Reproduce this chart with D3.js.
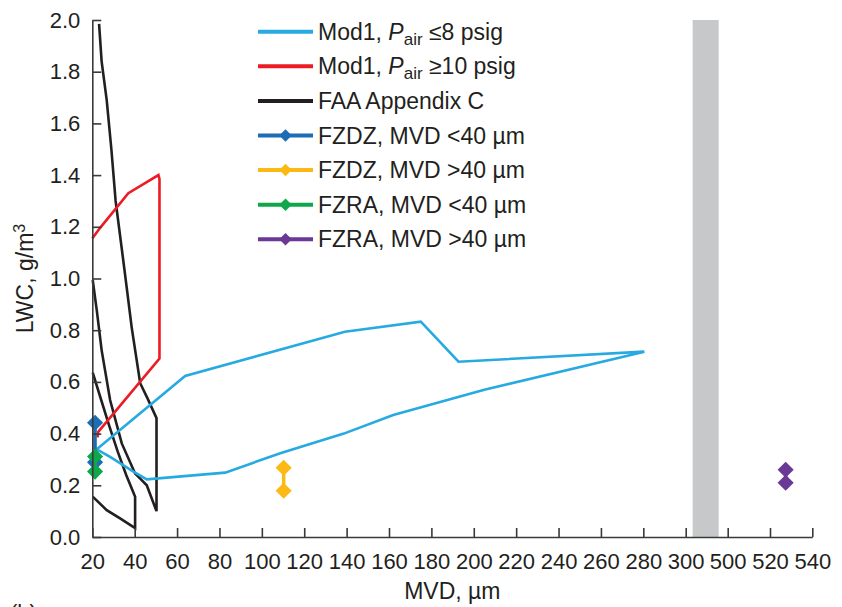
<!DOCTYPE html>
<html>
<head>
<meta charset="utf-8">
<script src="https://cdn.jsdelivr.net/npm/d3@7"></script>
<style>
    body { margin: 0; background: #fff; }
    text { font-family: "Liberation Sans", Arial, sans-serif; fill: #231f20; }
</style>
</head>
<body>
<script>

// tick values (x axis is broken between 300 and 500)
var xTicks = [20, 40, 60, 80, 100, 120, 140, 160, 180, 200, 220, 240, 260, 280, 300, 500, 520, 540];
var yTicks = [0, 0.2, 0.4, 0.6, 0.8, 1.0, 1.2, 1.4, 1.6, 1.8, 2.0];
var breakBand = [333, 457];

// Mod1, Pair <= 8 psig envelope  [MVD, LWC]
var mod1Low = [[22.1, 0.339], [63.8, 0.623], [139.2, 0.794], [175, 0.833], [192.8, 0.678],
    [280.5, 0.717], [205, 0.57], [162, 0.472], [138.7, 0.40], [108.7, 0.324], [82.7, 0.249],
    [45.7, 0.223], [39.4, 0.253], [28.4, 0.31], [22.1, 0.339]];

// Mod1, Pair >= 10 psig envelope
var mod1High = [[20, 1.155], [23.6, 1.195], [37, 1.33], [51.2, 1.40], [51.7, 1.385],
    [51.7, 0.69], [22.8, 0.407], [22.5, 0.385]];

// FAA Appendix C, intermittent maximum
var faaIntermittent = [[23.2, 1.985], [24.4, 1.84], [26.8, 1.69], [29, 1.5], [31, 1.3],
    [34.3, 1.09], [36, 0.98], [38.6, 0.81], [42.6, 0.595], [46, 0.537], [50.3, 0.46],
    [50.3, 0.10], [45.7, 0.20], [42.5, 0.227], [40.2, 0.246], [33.9, 0.362], [28.4, 0.53],
    [24.4, 0.723], [22.1, 0.878], [20.2, 0.994]];

// FAA Appendix C, continuous maximum
var faaContinuous = [[20.2, 0.636], [24.2, 0.53], [28, 0.43], [32, 0.33], [36, 0.24],
    [40.2, 0.156], [40.2, 0.034], [33.1, 0.072], [26.8, 0.104], [20.2, 0.156]];

// freezing drizzle / rain points
var fzdzSmall = [[21.3, 0.442], [21.3, 0.289]];
var fzdzLarge = [[110.3, 0.268], [110.3, 0.179]];
var fzraSmall = [[21.3, 0.311], [21.3, 0.253]];
var fzraLarge = [[527.4, 0.26], [527.4, 0.21]];

var legendLabels = ["Mod1, P_air ≤8 psig", "Mod1, P_air ≥10 psig", "FAA Appendix C",
    "FZDZ, MVD <40 µm", "FZDZ, MVD >40 µm", "FZRA, MVD <40 µm", "FZRA, MVD >40 µm"];
var legendColors = ["#27aae1", "#ed1c24", "#231f20", "#1c6db5", "#fdb913", "#0ea84b", "#6a3996"];
var legendMarker = [false, false, false, true, true, true, true];

function drawChart() {

    var width = 842,
        height = 607;

    var svg = d3.select("body")
        .append("svg")
        .attr("width", width)
        .attr("height", height);

    var left = 92.3, right = 812.3, top = 20, bottom = 537;

    // polylinear scale gives the axis break
    var x = d3.scaleLinear()
        .domain([20, 300, 500, 540])
        .range([left, 685.7, 727.7, right]);

    var y = d3.scaleLinear()
        .domain([0, 2])
        .range([bottom, top]);

    // gray break band
    svg.append("rect")
        .attr("x", x(breakBand[0]))
        .attr("y", top)
        .attr("width", x(breakBand[1]) - x(breakBand[0]))
        .attr("height", bottom - top)
        .attr("fill", "#c7c8ca");

    var line = d3.line()
        .x(function(d) { return x(d[0]); })
        .y(function(d) { return y(d[1]); });

    var curves = [
        {data: faaIntermittent, color: legendColors[2]},
        {data: faaContinuous, color: legendColors[2]},
        {data: mod1High, color: legendColors[1]},
        {data: mod1Low, color: legendColors[0]}
    ];

    svg.append("g")
        .attr("class", "curves")
        .selectAll("path")
        .data(curves)
        .enter().append("path")
        .attr("d", function(d) { return line(d.data); })
        .attr("fill", "none")
        .attr("stroke", function(d) { return d.color; })
        .attr("stroke-width", 2.6)
        .attr("stroke-linejoin", "miter");

    var diamond = d3.symbol().type(d3.symbolSquare).size(130);

    var points = [
        {data: fzdzSmall, color: legendColors[3]},
        {data: fzdzLarge, color: legendColors[4]},
        {data: fzraSmall, color: legendColors[5]},
        {data: fzraLarge, color: legendColors[6]}
    ];

    var pts = svg.append("g")
        .attr("class", "points")
        .selectAll("g")
        .data(points)
        .enter().append("g");

    pts.append("path")
        .attr("d", function(d) { return line(d.data); })
        .attr("fill", "none")
        .attr("stroke", function(d) { return d.color; })
        .attr("stroke-width", 3.5);

    pts.selectAll("path.mark")
        .data(function(d) {
            return d.data.map(function(p) { return {p: p, color: d.color}; });
        })
        .enter().append("path")
        .attr("class", "mark")
        .attr("d", diamond)
        .attr("transform", function(d) {
            return "translate(" + x(d.p[0]) + "," + y(d.p[1]) + ") rotate(45)";
        })
        .attr("fill", function(d) { return d.color; });

    // axes
    var xAxis = d3.axisBottom(x)
        .tickValues(xTicks)
        .tickSizeInner(-9)
        .tickSizeOuter(0)
        .tickPadding(16)
        .tickFormat(d3.format("d"));

    var yAxis = d3.axisLeft(y)
        .tickValues(yTicks)
        .tickSizeInner(-9)
        .tickSizeOuter(0)
        .tickPadding(12)
        .tickFormat(d3.format(".1f"));

    var gx = svg.append("g")
        .attr("transform", "translate(0," + bottom + ")")
        .call(xAxis);

    var gy = svg.append("g")
        .attr("transform", "translate(" + left + ",0)")
        .call(yAxis);

    [gx, gy].forEach(function(g) {
        g.selectAll("path, line")
            .attr("stroke", "#3a3a3a")
            .attr("stroke-width", 1.6);
        g.selectAll("text")
            .style("font-size", "22px")
            .attr("fill", "#231f20");
    });

    // axis titles
    svg.append("text")
        .attr("x", (left + right) / 2)
        .attr("y", 599)
        .attr("text-anchor", "middle")
        .style("font-size", "23px")
        .text("MVD, µm");

    var yt = svg.append("text")
        .attr("transform", "translate(33," + ((top + bottom) / 2) + ") rotate(-90)")
        .attr("text-anchor", "middle")
        .style("font-size", "23px");
    yt.append("tspan").text("LWC, g/m");
    yt.append("tspan")
        .attr("dy", -8)
        .style("font-size", "16px")
        .text("3");

    svg.append("text")
        .attr("x", 10)
        .attr("y", 620)
        .style("font-size", "22px")
        .text("(b)");

    // legend
    var legend = svg.append("g")
        .attr("class", "legend")
        .selectAll("g")
        .data(legendLabels)
        .enter().append("g")
        .attr("transform", function(d, i) {
            return "translate(258," + (31.7 + i * 34.6) + ")";
        });

    legend.append("line")
        .attr("x1", 0)
        .attr("x2", 55)
        .attr("stroke", function(d, i) { return legendColors[i]; })
        .attr("stroke-width", 4);

    legend.filter(function(d, i) { return legendMarker[i]; })
        .append("path")
        .attr("d", d3.symbol().type(d3.symbolSquare).size(78))
        .attr("transform", "translate(27.5,0) rotate(45)")
        .attr("fill", function(d) { return legendColors[legendLabels.indexOf(d)]; });

    var lt = legend.append("text")
        .attr("x", 60)
        .attr("y", 8)
        .style("font-size", "23px");

    lt.each(function(d) {
        var t = d3.select(this);
        if (d.indexOf("P_air") >= 0) {
            var parts = d.split("P_air");
            t.append("tspan").text(parts[0]);
            t.append("tspan").style("font-style", "italic").text("P");
            t.append("tspan").attr("dy", 5).style("font-size", "17px").text("air");
            t.append("tspan").attr("dy", -5).text(parts[1]);
        } else {
            t.text(d);
        }
    });
}

drawChart();

</script>
</body>
</html>
